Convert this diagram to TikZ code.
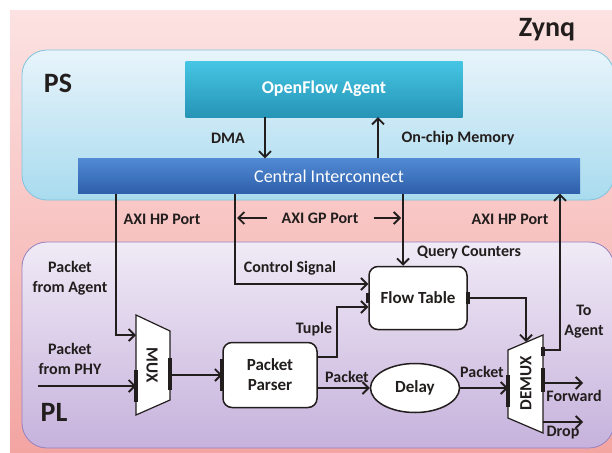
\documentclass[tikz,border=0pt]{standalone}
\usepackage{fontspec}
\setmainfont{Carlito}
\usetikzlibrary{arrows.meta,shapes.geometric}

\definecolor{zynqtop}{RGB}{252,226,226}
\definecolor{zynqbot}{RGB}{243,165,162}
\definecolor{pstop}{RGB}{232,244,251}
\definecolor{psbot}{RGB}{168,219,238}
\definecolor{psline}{RGB}{130,195,222}
\definecolor{pltop}{RGB}{240,234,246}
\definecolor{plbot}{RGB}{198,178,220}
\definecolor{plline}{RGB}{150,130,190}
\definecolor{agenttop}{RGB}{70,198,228}
\definecolor{agentbot}{RGB}{38,148,182}
\definecolor{citop}{RGB}{82,138,212}
\definecolor{cibot}{RGB}{45,95,170}
\definecolor{ink}{RGB}{35,30,30}

\begin{document}
\begin{tikzpicture}[
x=1pt, y=-1pt,
lbl/.style={font=\fontsize{16}{20}\selectfont\bfseries, align=center, inner sep=1pt, text=ink},
title/.style={font=\fontsize{28}{30}\selectfont\bfseries, text=ink},
block/.style={draw=ink, line width=1.5pt, rounded corners=9pt, fill=white, minimum width=94pt, minimum height=65pt, font=\fontsize{17}{20}\selectfont\bfseries, align=center, text=ink},
delaybox/.style={draw=ink, ellipse, line width=1.5pt, fill=white, minimum width=89pt, minimum height=49pt, inner sep=0pt, font=\fontsize{17}{20}\selectfont\bfseries, text=ink},
muxbox/.style={draw=ink, line width=1.2pt, fill=white},
muxtext/.style={font=\fontsize{17}{20}\selectfont\bfseries, text=ink},
port/.style={ink, line width=4pt},
wire/.style={ink, line width=1.8pt},
arrow/.style={wire, -{Straight Barb[length=6pt,width=12pt]}}
]
\useasboundingbox (0,0) rectangle (612,452);

\fill[top color=zynqtop, bottom color=zynqbot] (10,11) rectangle (612,452);
\draw[psline, line width=0.8pt, top color=pstop, bottom color=psbot, rounded corners=25pt] (22,50) rectangle (614,200);
\draw[plline, line width=0.8pt, top color=pltop, bottom color=plbot, rounded corners=25pt] (22,242) rectangle (614,448);

\node[title] (zynq) at (547,30) {Zynq};
\node[title] (ps) at (58,83) {PS};
\node[title] (pl) at (54,412) {PL};

\node[top color=agenttop, bottom color=agentbot, minimum width=277pt, minimum height=56pt, font=\fontsize{18}{20}\selectfont\bfseries, text=white] (agent) at (324,89) {OpenFlow Agent};
\node[top color=citop, bottom color=cibot, minimum width=502pt, minimum height=35pt, font=\fontsize{18}{20}\selectfont, text=white] (ci) at (329,176) {Central Interconnect};

\node[block] (parser) at (270,375) {Packet\\Parser};
\node[block, minimum width=98pt, minimum height=63pt] (flow) at (418,298) {Flow Table};
\node[delaybox] (delay) at (415,388) {Delay};

\draw[muxbox] (136,315) -- (170,331) -- (170,400) -- (136,415) -- cycle;
\node[muxtext, rotate=-90] (mux) at (152,365) {MUX};
\coordinate (muxA) at (136,335);
\coordinate (muxB) at (136,386);
\coordinate (muxO) at (170,375);
\coordinate (phyIn) at (38,386);

\draw[muxbox] (508,350) -- (543,335) -- (543,433) -- (508,418) -- cycle;
\node[muxtext, rotate=90] (demux) at (526,383) {DEMUX};
\coordinate (dmxI) at (508,388);
\coordinate (dmxT) at (526,342);
\coordinate (dmxA) at (543,350);
\coordinate (dmxF) at (543,383);
\coordinate (dmxD) at (543,422);

\draw[port] (136,370) -- (136,402);
\draw[port] (170,358) -- (170,390);
\draw[port] (parser.west) ++(0,-16) -- ++(0,32);
\draw[port] (flow.west) ++(0,-5) -- ++(0,10);
\draw[port] (flow.east) ++(0,-6) -- ++(0,12);
\draw[port] (508,375) -- (508,407);
\draw[port] (543,347) -- (543,356);
\draw[port] (543,368) -- (543,392);

\draw[arrow] ([xshift=-59pt]agent.south) -- ([xshift=-59pt]agent.south |- ci.north);
\draw[arrow] ([xshift=54pt]agent.south |- ci.north) -- ([xshift=54pt]agent.south);
\node[lbl] (dma) at (228,138) {DMA};
\node[lbl] (ocm) at (458,138) {On-chip Memory};

\draw[arrow] (ci.south -| 116,0) |- (muxA);
\draw[arrow] (ci.south -| 235,0) |- ([yshift=14pt]flow.west);
\draw[arrow] (ci.south -| 403,0) -- (flow.north -| 403,0);
\draw[arrow] (dmxA) -| (ci.south -| 560,0);

\node[lbl] (hpl) at (162,219) {AXI HP Port};
\node[lbl] (gp) at (320,218) {AXI GP Port};
\node[lbl] (hpr) at (510,219) {AXI HP Port};
\draw[arrow] ([xshift=-13pt]gp.west) -- (gp.west -| 237,0);
\draw[arrow] ([xshift=14pt]gp.east) -- (gp.east -| 401,0);

\node[lbl] (fromagent) at (70,278) {Packet\\from Agent};
\node[lbl] (fromphy) at (70,359) {Packet\\from PHY};
\node[lbl] (ctrl) at (290,268) {Control Signal};
\node[lbl] (query) at (469,253) {Query Counters};

\draw[arrow] (phyIn) -- (muxB);
\draw[arrow] (muxO) -- (parser.west);
\draw[arrow] ([yshift=18pt]parser.east) -- ++(19,0) |- ([yshift=-9pt]flow.west);
\draw[arrow] (parser.east |- delay.west) -- (delay.west);
\draw[arrow] (delay.east) -- (dmxI);
\draw[arrow] (flow.east) -| (dmxT);
\draw[arrow] (dmxF) -- ++(40,0);
\draw[arrow] (dmxD) -- ++(40,0);

\node[lbl] (tuple) at (314,329) {Tuple};
\node[lbl] (pkt1) at (347,377) {Packet};
\node[lbl] (pkt2) at (482,372) {Packet};
\node[lbl] (toagent) at (584,322) {To\\Agent};
\node[lbl] (fwd) at (574,396) {Forward};
\node[lbl] (drop) at (563,433) {Drop};

\end{tikzpicture}
\end{document}
